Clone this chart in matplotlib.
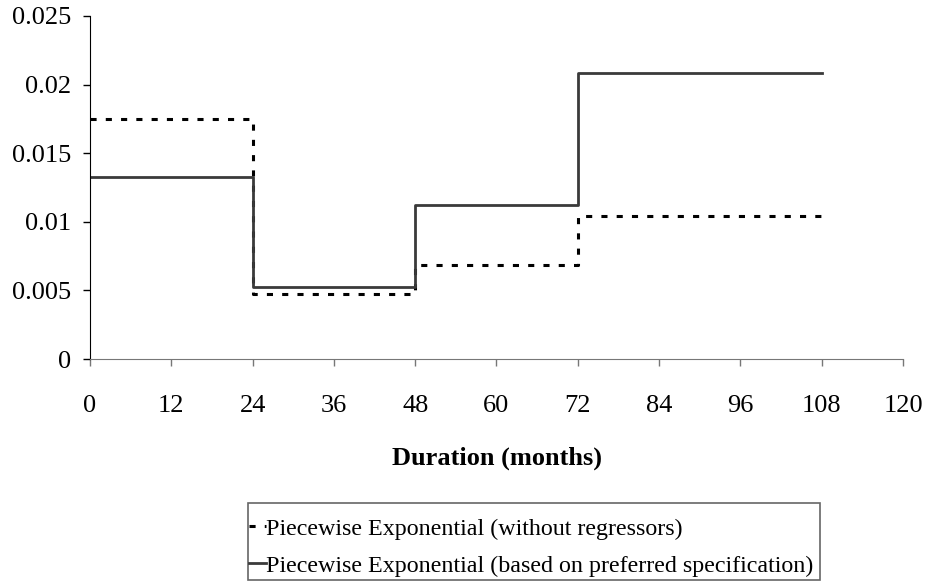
import matplotlib
matplotlib.use("Agg")
import matplotlib.pyplot as plt
from matplotlib.patches import Rectangle

# Data
interval_edges = [0, 24, 48, 72, 108]
hazard_no_regressors = [0.0175, 0.00474, 0.00687, 0.01042]
hazard_preferred = [0.01327, 0.00522, 0.01125, 0.02082]
x_ticks = [0, 12, 24, 36, 48, 60, 72, 84, 96, 108, 120]
y_ticks = [0, 0.005, 0.01, 0.015, 0.02, 0.025]
y_tick_labels = ["0", "0.005", "0.01", "0.015", "0.02", "0.025"]
label_no_reg = "Piecewise Exponential (without regressors)"
label_pref = "Piecewise Exponential (based on preferred specification)"
x_label = "Duration (months)"

plt.rcParams['font.family'] = ['Liberation Serif', 'DejaVu Serif']

W, H = 925, 581
fig = plt.figure(figsize=(W/100, H/100), dpi=100)
ax = fig.add_axes([90/W, 1-359/H, (903-90)/W, (359-16)/H])

l1, = ax.step(interval_edges, hazard_no_regressors + [hazard_no_regressors[-1]], where='post',
              color='black', lw=2.2, linestyle=(0, (2.0, 3.0)), label=label_no_reg)
l2, = ax.step(interval_edges, hazard_preferred + [hazard_preferred[-1]], where='post',
              color='#3a3a3a', lw=2.0, label=label_pref)

ax.set_xlim(0, 120)
ax.set_ylim(0, 0.025)
ax.set_xticks(x_ticks)
ax.set_xticklabels([str(t) for t in x_ticks])
ax.set_yticks(y_ticks)
ax.set_yticklabels(y_tick_labels)
ax.tick_params(axis='both', labelsize=19, direction='out', length=5, width=1)
ax.tick_params(axis='x', pad=21, color='#777777')
ax.tick_params(axis='y', pad=8.5)
for s in ['top', 'right']:
    ax.spines[s].set_visible(False)
ax.spines['bottom'].set_color('#777777')
ax.spines['left'].set_color('black')
ax.set_xlabel(x_label, fontsize=19, fontweight='bold', va='center')
ax.xaxis.set_label_coords(0.5, -(458-359)/343)

# Legend frame drawn separately to allow asymmetric padding
fig.patches.append(Rectangle((248/W, 1-580/H), (820-248)/W, (580-503)/H,
                             transform=fig.transFigure, fill=False,
                             edgecolor='#666666', linewidth=1.2))
leg = fig.legend(handles=[l1, l2], loc='upper left',
                 bbox_to_anchor=(249/W, 1-518/H), fontsize=17.3, frameon=False,
                 handlelength=0.72, handletextpad=0.0, borderpad=0,
                 borderaxespad=0, labelspacing=0.62)

fig.savefig("out.png", dpi=100)
